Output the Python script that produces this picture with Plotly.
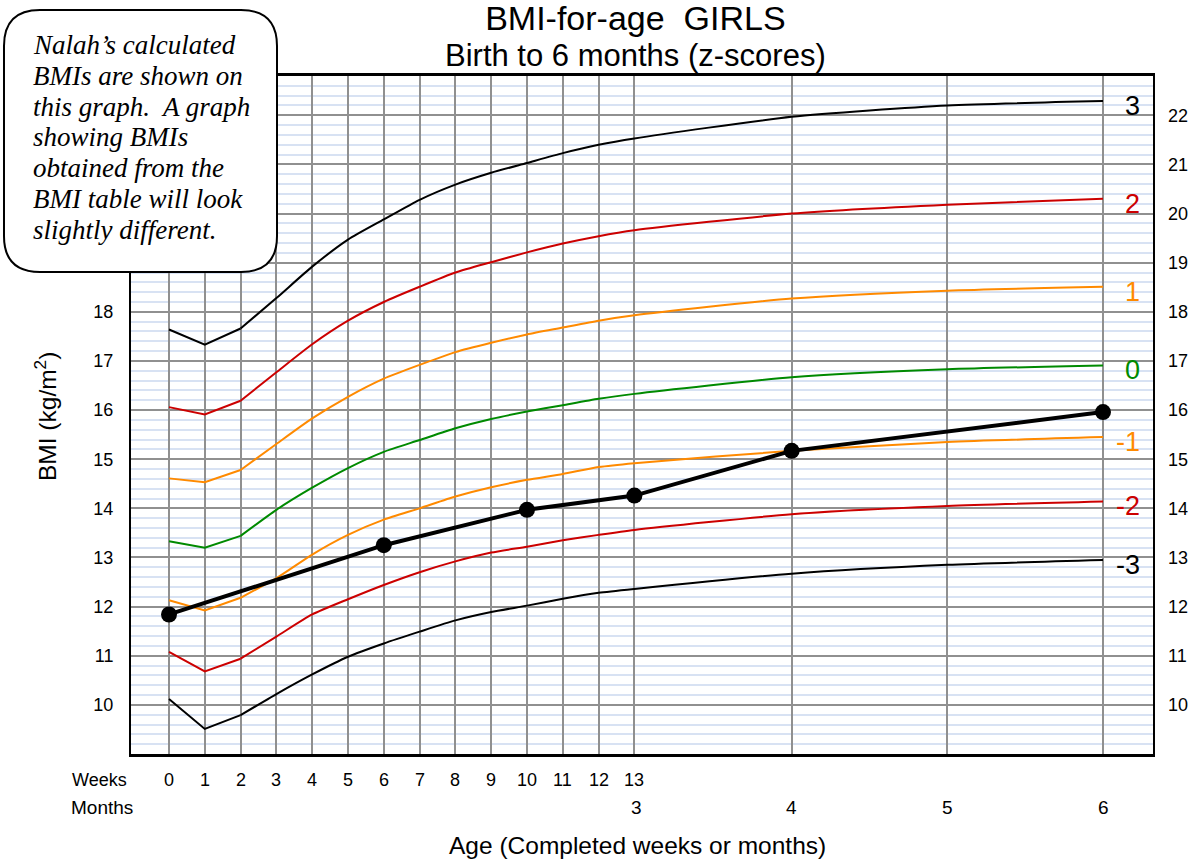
import plotly.graph_objects as go

# ---------------- data ----------------
weeks = list(range(0, 14))
week_labels = [str(w) for w in weeks]
months = [3, 4, 5, 6]
month_labels = [str(m) for m in months]
WEEKS_PER_MONTH = 30.4375 / 7.0
month_x = [m * WEEKS_PER_MONTH for m in months]       # position of months on the week scale
extra_month_x = month_x[1:]                            # months 4,5,6 (month 3 == week 13)

z_labels = ["3", "2", "1", "0", "-1", "-2", "-3"]
z_colors = ["#000000", "#cc0000", "#ff8a00", "#008a00", "#ff8a00", "#cc0000", "#000000"]

# BMI values at weeks 0..13 followed by months 4, 5, 6
z_p3 = [17.64, 17.33, 17.66, 18.28, 18.92, 19.47, 19.88, 20.28, 20.59, 20.83, 21.03, 21.23, 21.40, 21.53, 21.97, 22.20, 22.29]
z_p2 = [16.06, 15.91, 16.19, 16.77, 17.34, 17.82, 18.20, 18.51, 18.80, 19.01, 19.21, 19.39, 19.54, 19.66, 20.00, 20.18, 20.30]
z_p1 = [14.61, 14.53, 14.78, 15.31, 15.83, 16.27, 16.64, 16.92, 17.18, 17.37, 17.54, 17.68, 17.82, 17.93, 18.27, 18.43, 18.51]
z_0 = [13.33, 13.20, 13.44, 13.97, 14.42, 14.82, 15.15, 15.39, 15.63, 15.82, 15.97, 16.10, 16.23, 16.33, 16.67, 16.83, 16.91]
z_m1 = [12.13, 11.92, 12.18, 12.58, 13.06, 13.46, 13.77, 14.00, 14.24, 14.43, 14.58, 14.70, 14.84, 14.92, 15.17, 15.35, 15.45]
z_m2 = [11.08, 10.68, 10.94, 11.39, 11.84, 12.15, 12.44, 12.70, 12.92, 13.10, 13.22, 13.35, 13.46, 13.56, 13.88, 14.05, 14.14]
z_m3 = [10.12, 9.51, 9.79, 10.22, 10.62, 10.98, 11.25, 11.49, 11.72, 11.89, 12.02, 12.16, 12.28, 12.36, 12.67, 12.85, 12.95]
z_curves = [z_p3, z_p2, z_p1, z_0, z_m1, z_m2, z_m3]

# Nalah's calculated BMIs
nalah_x = [0, 6, 10, 13, month_x[1], month_x[3]]
nalah_bmi = [11.84, 13.25, 13.97, 14.26, 15.17, 15.96]

y_ticks_right = list(range(10, 23))
y_ticks_left = list(range(10, 19))

title_text = "BMI-for-age\u00a0 GIRLS"
subtitle_text = "Birth to 6 months (z-scores)"

note_lines = [
    "Nalah\u2019s calculated",
    "BMIs are shown on",
    "this graph.\u00a0 A graph",
    "showing BMIs",
    "obtained from the",
    "BMI table will look",
    "slightly different.",
]

# ---------------- layout geometry ----------------
W, H = 1203, 859
L, R, T, B = 131, 50, 76, 105
PW, PH = W - L - R, H - T - B
X0_PX, PX_PER_WEEK = 169, 35.8


def px(xp):
    return (xp - L) / PW


def py(yp):
    return (H - B - yp) / PH


SANS = "Liberation Sans, Arial, sans-serif"
SERIF = "Liberation Serif, Times New Roman, serif"

x_all = weeks + extra_month_x

fig = go.Figure()

for i, (vals, col) in enumerate(zip(z_curves, z_colors)):
    yax = "y2" if i == 0 else "y"
    # first two weeks drawn as straight segments (sharp kinks)
    fig.add_trace(go.Scatter(x=x_all[:3], y=vals[:3], mode="lines", yaxis=yax,
                             line=dict(color=col, width=2), hoverinfo="skip"))
    fig.add_trace(go.Scatter(x=x_all[2:], y=vals[2:], mode="lines", yaxis=yax,
                             line=dict(color=col, width=2, shape="spline", smoothing=0.6),
                             hoverinfo="skip"))

fig.add_trace(go.Scatter(x=nalah_x, y=nalah_bmi, mode="lines+markers",
                         line=dict(color="black", width=4),
                         marker=dict(color="black", size=16)))

annotations = []

# curve labels at right end
for vals, lab, col in zip(z_curves, z_labels, z_colors):
    annotations.append(dict(x=x_all[-1], y=vals[-1], xref="x", yref="y", text=lab,
                            showarrow=False, xanchor="right", yanchor="middle",
                            xshift=39, yshift=-5, font=dict(family=SANS, size=27, color=col)))

# week tick labels
for w, t in zip(weeks, week_labels):
    annotations.append(dict(x=w, y=py(780), xref="x", yref="paper", text=t, showarrow=False,
                            xanchor="center", yanchor="middle",
                            font=dict(family=SANS, size=18, color="black")))
# month tick labels
for mx, t in zip(month_x, month_labels):
    annotations.append(dict(x=mx, y=py(807), xref="x", yref="paper", text=t, showarrow=False,
                            xanchor="center", yanchor="middle",
                            font=dict(family=SANS, size=19, color="black")))

annotations += [
    dict(x=px(99), y=py(780), xref="paper", yref="paper", text="Weeks", showarrow=False,
         xanchor="center", yanchor="middle", font=dict(family=SANS, size=18, color="black")),
    dict(x=px(102), y=py(807), xref="paper", yref="paper", text="Months", showarrow=False,
         xanchor="center", yanchor="middle", font=dict(family=SANS, size=19, color="black")),
    dict(x=px(637), y=py(845), xref="paper", yref="paper", text="Age (Completed weeks or months)",
         showarrow=False, xanchor="center", yanchor="middle",
         font=dict(family=SANS, size=24.5, color="black")),
    dict(x=px(46), y=py(417), xref="paper", yref="paper", text="BMI (kg/m<sup>2</sup>)",
         showarrow=False, xanchor="center", yanchor="middle", textangle=-90,
         font=dict(family=SANS, size=24.5, color="black")),
    # title + subtitle as one two-line text block
    dict(x=px(635), y=py(36), xref="paper", yref="paper",
         text=(f"<span style='font-size:34px'>{title_text}</span><br>"
               f"<span style='font-size:31px'>{subtitle_text}</span>"),
         showarrow=False, xanchor="center", yanchor="middle", align="center", borderpad=0,
         font=dict(family=SANS, size=28, color="black")),
]

# callout text
note_centers = [45, 76, 106.5, 137, 168, 199, 229.5]
for line, yc in zip(note_lines, note_centers):
    annotations.append(dict(x=px(31), y=py(yc), xref="paper", yref="paper", text=line,
                            showarrow=False, xanchor="left", yanchor="middle",
                            font=dict(family=SERIF, size=27, color="black", style="italic")))

# rounded callout box
bx0, by0, bx1, by1, r = 4, 10, 277, 272, 36


def P(a, b):
    return f"{px(a):.5f},{py(b):.5f}"


path = (f"M {P(bx0 + r, by0)} L {P(bx1 - r, by0)} Q {P(bx1, by0)} {P(bx1, by0 + r)} "
        f"L {P(bx1, by1 - r)} Q {P(bx1, by1)} {P(bx1 - r, by1)} "
        f"L {P(bx0 + r, by1)} Q {P(bx0, by1)} {P(bx0, by1 - r)} "
        f"L {P(bx0, by0 + r)} Q {P(bx0, by0)} {P(bx0 + r, by0)} Z")

fig.update_layout(
    width=W, height=H,
    margin=dict(l=L, r=R, t=T, b=B, autoexpand=False),
    paper_bgcolor="white", plot_bgcolor="white",
    showlegend=False,
    font=dict(family=SANS, color="black"),
    xaxis=dict(range=[(L - X0_PX) / PX_PER_WEEK, (W - R - X0_PX) / PX_PER_WEEK],
               tickmode="array", tickvals=weeks + extra_month_x, showticklabels=False,
               ticks="", showgrid=True, gridcolor="#909090", gridwidth=1.5,
               showline=True, linecolor="black", linewidth=2.5, mirror=True, zeroline=False),
    yaxis=dict(range=[9, 22.8], tickmode="array", tickvals=y_ticks_left,
               ticks="", ticklabelstandoff=12, tickfont=dict(size=18, family=SANS),
               showgrid=False,
               minor=dict(tickmode="linear", tick0=9, dtick=0.2, showgrid=True,
                          gridcolor="#d8e2f3", gridwidth=1.5, ticks=""),
               showline=True, linecolor="black", linewidth=2, mirror=True, zeroline=False),
    yaxis2=dict(range=[9, 22.8], overlaying="y", side="right", tickmode="array",
                tickvals=y_ticks_right, ticks="", ticklabelstandoff=14,
                tickfont=dict(size=18, family=SANS), showgrid=True, gridcolor="#909090",
                gridwidth=1.5, zeroline=False, showline=False),
    annotations=annotations,
    shapes=[dict(type="path", path=path, xref="paper", yref="paper",
                 line=dict(color="black", width=2), fillcolor="white", layer="above")],
)

fig.write_html("out.html", config={"displayModeBar": False},
               post_script="document.body.style.margin='0';document.body.style.padding='0';")
